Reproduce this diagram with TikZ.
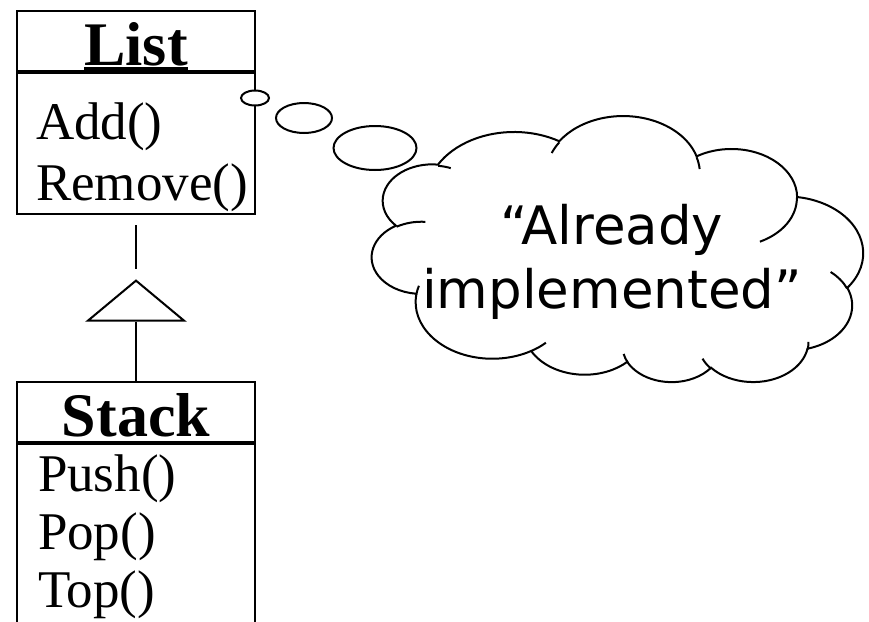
\documentclass[tikz,border=0pt]{standalone}
\usepackage{fontspec}
\setmainfont{Liberation Serif}
\newfontfamily\cloudfont{DejaVu Sans}
\usepackage{tikz}
\usetikzlibrary{positioning,shapes.geometric}

\newcommand\headfont{\fontsize{62}{70}\selectfont\bfseries}
\newcommand\opfont{\fontsize{53}{60}\selectfont}
\newsavebox\namebox
\newcommand\nameline[1]{\sbox\namebox{#1}\rlap{\rule[-4.5pt]{\wd\namebox}{2.5pt}}\usebox\namebox}

% cloud outline, in units of 1000 (upside down)
\newcommand\cloudline{}
\newcommand\cloudflicks{}
\foreach \crx/\cry/\cst/\csw in {6.753/9.19/-190.4875/123.7805, 5.333/7.267/-144.1024/89.9452,
	4.365/5.945/-145.8079/99.7230, 4.857/6.595/-130.9861/117.2417, 5.333/7.273/-78.7089/109.0269,
	6.775/9.22/-46.2673/130.269, 5.785/7.867/0.6250/114.0333, 6.752/9.215/22.4516/115.1726,
	7.72/10.543/66.2426/75.7110, 4.36/5.918/-274.9421/146.7356, 4.345/5.945/-246.8285/152.5189}{%
	\pgfmathsetmacro\cts{atan2(\crx*sin(\cst),\cry*cos(\cst))}%
	\pgfmathsetmacro\ctd{mod(atan2(\crx*sin(\cst+\csw),\cry*cos(\cst+\csw))-(\cts)+720,360)}%
	\xdef\cloudline{\cloudline arc[x radius=\crx, y radius=\cry, start angle=\cts, delta angle=\ctd]}%
}
\foreach \cx/\cy/\crx/\cry/\cst/\csw in {4.693/26.177/4.345/5.945/86.742/26.4295,
	6.928/34.899/4.36/5.918/73.6105/11.4475, 16.478/39.09/6.752/9.215/137.6242/14.0811,
	28.827/34.751/6.752/9.215/6.4533/15.9984, 34.129/22.954/5.785/7.867/-70.2924/70.9174,
	41.798/15.354/5.333/7.273/30.3180/27.7515, 38.324/5.426/4.857/6.595/-13.7443/14.8589,
	29.078/3.952/4.857/6.595/-149.1815/18.1954, 22.141/4.72/4.365/5.945/-163.4943/17.6864,
	14/5.192/6.753/9.19/-66.7070/12.3194, 4.127/15.789/6.753/9.19/157.6544/11.8582}{%
	\pgfmathsetmacro\cts{atan2(\crx*sin(\cst),\cry*cos(\cst))}%
	\pgfmathsetmacro\ctd{mod(atan2(\crx*sin(\cst+\csw),\cry*cos(\cst+\csw))-(\cts)+720,360)}%
	\xdef\cloudflicks{\cloudflicks (\cx,\cy) arc[x radius=\crx, y radius=\cry, start angle=\cts, delta angle=\ctd]}%
}

\begin{document}
\begin{tikzpicture}[x=1pt, y=-1pt, line width=2pt, node distance=0pt,
	classhead/.style={draw, minimum width=238pt, inner sep=0pt, text height=54pt, text depth=6pt, font=\headfont},
	classbody/.style={draw, minimum width=238pt, inner sep=0pt},
	op/.style={anchor=base west, inner sep=0pt, font=\opfont},
	bubble/.style={draw, ellipse, fill=white, inner sep=0pt}]
	\useasboundingbox (0,0) rectangle (869,621);

	\node (list) [classhead] at (136,41) {\nameline{List}};
	\node (listops) [classbody, below=of list, minimum height=141pt] {};
	\node (add) [op] at (35,139) {Add()};
	\node (remove) [op] at (35,200) {Remove()};

	\node (stack) [classhead] at (136,412) {Stack};
	\node (stackops) [classbody, below=of stack, minimum height=200pt] {};
	\foreach \op [count=\i] in {Push,Pop,Top} {
		\node (\op) [op] at (37,{433+58*\i}) {\op()};
	}

	\node (gen) [draw, isosceles triangle, shape border rotate=90, isosceles triangle stretches,
		minimum width=96pt, minimum height=40pt, inner sep=0pt, anchor=apex] at (136,278) {};
	\draw[shorten <=10pt, shorten >=9pt] (listops) -- (gen.apex);
	\draw (gen.south) -- (stack);

	\node (b1) [bubble, minimum width=28pt, minimum height=15pt] at (255,98) {};
	\node (b2) [bubble, minimum width=56pt, minimum height=30pt] at (304,118) {};
	\node (b3) [bubble, minimum width=83pt, minimum height=44pt] at (375,148) {};

	\begin{scope}[shift={(372,383)}, x={(11.366pt,0pt)}, y={(0pt,6.157pt)}]
		\draw[fill=white] (3.9,14.37) \cloudline -- cycle;
		\draw \cloudflicks;
	\end{scope}
	\node (thought) [font=\fontsize{53}{64}\selectfont\cloudfont, align=center] at (612,262) {“Already\\implemented”};
\end{tikzpicture}
\end{document}
